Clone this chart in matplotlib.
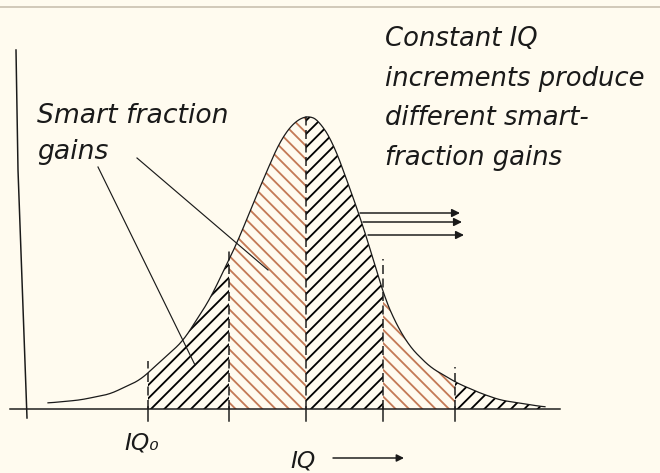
import matplotlib
matplotlib.use("Agg")
import matplotlib.pyplot as plt
import numpy as np

# sketch of a skewed IQ distribution, positions
curve_x = [48, 80, 110, 140, 150, 183, 210, 237, 260, 280, 295, 310, 320, 333,
           345, 360, 372, 383, 395, 410, 430, 457, 480, 500, 525, 545]
curve_h = [6, 9, 15, 29, 38, 68, 110, 166, 222, 268, 288, 294, 287, 266,
           234, 192, 154, 116, 87, 62, 42, 26, 16, 9, 5, 2]

cuts = [148, 229, 306, 383, 455, 545]          # constant IQ increments
cut_tops = [48, 162, 294, 150, 42]             # how far each dashed line reaches
band_colors = ["black", "#c47a56", "black", "#c47a56", "black"]
band_hatch = ["///", "\\\\\\", "///", "\\\\\\", "///"]
tick_x = [148, 229, 306, 383, 455]

# hand-drawn y axis (slightly crooked)
yaxis_x = [16, 18, 26, 27]
yaxis_h = [359, 239, 19, -9]

note_right = "Constant IQ\nincrements produce\ndifferent smart-\nfraction gains"
note_left = "Smart fraction\ngains"

bg = "#fffbef"
ink = "#1a1a1a"
plt.rcParams["hatch.linewidth"] = 1.1
hand = ["DejaVu Sans"]

fig = plt.figure(figsize=(5.5, 473 / 120), dpi=120, facecolor=bg)
ax = fig.add_axes([0, 0, 1, 1])
ax.set_facecolor(bg)
ax.set_xlim(0, 660)
ax.set_ylim(-64, 409)
ax.axis("off")

# smooth the hand-read curve a little
xs = np.arange(curve_x[0], curve_x[-1] + 1, 1.0)
hs = np.interp(xs, curve_x, curve_h)
k = 15
hs_s = np.convolve(np.pad(hs, k // 2, mode="edge"), np.ones(k) / k, mode="valid")

# hatched bands under the curve
for i in range(len(cuts) - 1):
    m = (xs >= cuts[i]) & (xs <= cuts[i + 1])
    ax.fill_between(xs[m], 0, hs_s[m], facecolor="none", edgecolor=band_colors[i],
                    hatch=band_hatch[i], linewidth=0)

ax.plot(xs, hs_s, color=ink, lw=0.75)

# dashed dividers
for x, top in zip(cuts[:-1], cut_tops):
    ax.plot([x, x], [0, top], color=ink, lw=0.9, dashes=(6, 3))

# axes drawn by hand
ax.plot([10, 560], [0, 0], color=ink, lw=0.9)
ax.plot(yaxis_x, yaxis_h, color=ink, lw=0.9)
for x in tick_x:
    ax.plot([x, x], [-12, 2], color=ink, lw=0.9)
ax.axhline(402, color="#c9c1b0", lw=1.0)

# three arrows
for x0, x1, y in [(360, 460, 196), (363, 462, 187), (368, 464, 174)]:
    ax.annotate("", xy=(x1, y), xytext=(x0, y),
                arrowprops=dict(arrowstyle="-|>", color=ink, lw=0.9,
                                mutation_scale=10, shrinkA=0, shrinkB=0))

# pointer lines from the left note
ax.plot([98, 195], [242, 44], color=ink, lw=0.7)
ax.plot([137, 268], [251, 139], color=ink, lw=0.7)

ax.text(385, 383, note_right, fontsize=15.5, family=hand, style="italic",
        weight="light", va="top", ha="left", linespacing=1.68, color=ink)
ax.text(37, 306, note_left, fontsize=16, family=hand, style="italic",
        weight="light", va="top", ha="left", linespacing=1.5, color=ink)

ax.text(124, -34, "IQ\u2080", fontsize=14, family=hand, style="italic",
        weight="light", va="center", ha="left", color=ink)
ax.text(290, -52, "IQ", fontsize=14, family=hand, style="italic",
        weight="light", va="center", ha="left", color=ink)
ax.annotate("", xy=(404, -49), xytext=(333, -49),
            arrowprops=dict(arrowstyle="-|>", color=ink, lw=0.9,
                            mutation_scale=9, shrinkA=0, shrinkB=0))

fig.savefig("out.png", dpi=120, facecolor=bg)
